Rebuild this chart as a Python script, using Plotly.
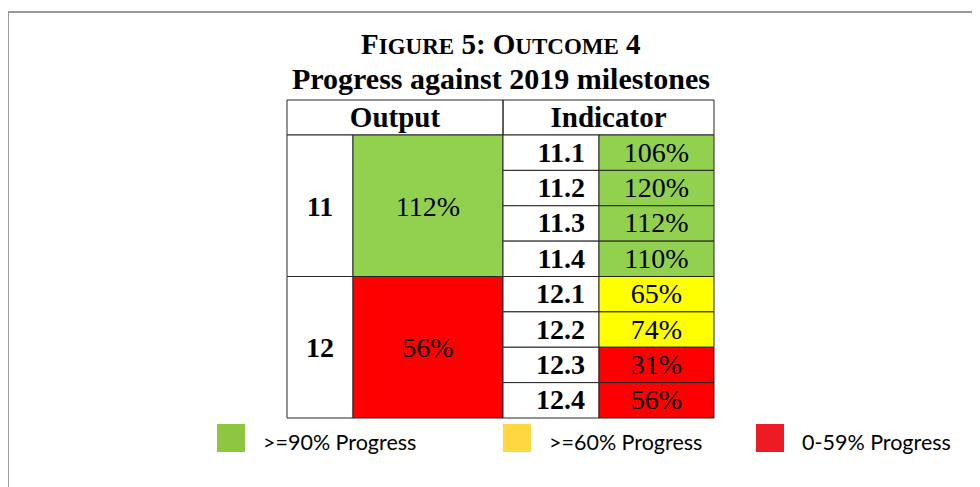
import plotly.graph_objects as go

# Table data
outputs = ["11", "12"]
output_progress = [112, 56]
indicators = ["11.1", "11.2", "11.3", "11.4", "12.1", "12.2", "12.3", "12.4"]
indicator_progress = [106, 120, 112, 110, 65, 74, 31, 56]
indicators_per_output = 4
header_labels = ["Output", "Indicator"]

legend_labels = [">=90% Progress", ">=60% Progress", "0-59% Progress"]
legend_colors = ["#8DC63F", "#FFD83F", "#ED1C24"]


def cell_colour(p):
    if p >= 90:
        return "#92D050"
    if p >= 60:
        return "#FFFF00"
    return "#FF0000"


# Layout of the table (pixel units on the axes)
W, H = 980, 487
OFF = 8  # page body margin, so axis units match page pixels
COLS = [287, 353, 503, 599, 714]
HEAD_TOP, HEAD_BOT = 100, 135
ROW_H = (418 - HEAD_BOT) / len(indicators)
TXT_DY = 2  # text sits a little below cell middle
SERIF = "Liberation Serif, Times New Roman, serif"
LINE = dict(color="#262626", width=1)


def row_top(i):
    return HEAD_BOT + i * ROW_H


fig = go.Figure()
shapes = []

# outer frame
shapes.append(dict(type="rect", x0=8, y0=12, x1=W + 40, y1=H + 40,
                   line=dict(color="#999999", width=2), layer="below"))

# header cells
for x0, x1 in [(COLS[0], COLS[2]), (COLS[2], COLS[4])]:
    shapes.append(dict(type="rect", x0=x0, x1=x1, y0=HEAD_TOP, y1=HEAD_BOT,
                       line=LINE, layer="below"))

out_y = []
for k, p in enumerate(output_progress):
    y0 = row_top(k * indicators_per_output)
    y1 = row_top((k + 1) * indicators_per_output)
    shapes.append(dict(type="rect", x0=COLS[0], x1=COLS[1], y0=y0, y1=y1,
                       line=LINE, fillcolor="white", layer="below"))
    shapes.append(dict(type="rect", x0=COLS[1], x1=COLS[2], y0=y0, y1=y1,
                       line=LINE, fillcolor=cell_colour(p), layer="below"))
    out_y.append((y0 + y1) / 2 + TXT_DY + 1)

ind_y = []
for i, p in enumerate(indicator_progress):
    y0, y1 = row_top(i), row_top(i + 1)
    shapes.append(dict(type="rect", x0=COLS[2], x1=COLS[3], y0=y0, y1=y1,
                       line=LINE, fillcolor="white", layer="below"))
    shapes.append(dict(type="rect", x0=COLS[3], x1=COLS[4], y0=y0, y1=y1,
                       line=LINE, fillcolor=cell_colour(p), layer="below"))
    ind_y.append((y0 + y1) / 2 + TXT_DY)

# header text
fig.add_trace(go.Scatter(
    x=[(COLS[0] + COLS[2]) / 2, (COLS[2] + COLS[4]) / 2],
    y=[(HEAD_TOP + HEAD_BOT) / 2 + TXT_DY] * 2,
    text=["<b>%s</b>" % h for h in header_labels],
    mode="text", textfont=dict(family=SERIF, size=29, color="black"),
    hoverinfo="skip", showlegend=False))

# output numbers and progress
fig.add_trace(go.Scatter(
    x=[(COLS[0] + COLS[1]) / 2] * len(outputs), y=out_y,
    text=["<b>%s</b>" % o for o in outputs],
    mode="text", textfont=dict(family=SERIF, size=28, color="black"),
    hoverinfo="skip", showlegend=False))
fig.add_trace(go.Scatter(
    x=[(COLS[1] + COLS[2]) / 2] * len(outputs), y=out_y,
    text=["%d%%" % p for p in output_progress],
    mode="text", textfont=dict(family=SERIF, size=28, color="black"),
    hoverinfo="skip", showlegend=False))

# indicator labels and progress
fig.add_trace(go.Scatter(
    x=[COLS[3] - 14] * len(indicators), y=ind_y,
    text=["<b>%s</b>" % s for s in indicators],
    mode="text", textposition="middle left",
    textfont=dict(family=SERIF, size=28, color="black"),
    hoverinfo="skip", showlegend=False))
fig.add_trace(go.Scatter(
    x=[(COLS[3] + COLS[4]) / 2] * len(indicators), y=ind_y,
    text=["%d%%" % p for p in indicator_progress],
    mode="text", textfont=dict(family=SERIF, size=28, color="black"),
    hoverinfo="skip", showlegend=False))

# legend swatches and labels
LEG_X = [217, 503, 756]
annotations = []
for lx, lab, col in zip(LEG_X, legend_labels, legend_colors):
    shapes.append(dict(type="rect", x0=lx, x1=lx + 28, y0=424, y1=452,
                       line=dict(width=0), fillcolor=col, layer="below"))
    annotations.append(dict(x=lx + 44, y=442, xref="x", yref="y", text=lab,
                            showarrow=False, xanchor="left", yanchor="middle",
                            font=dict(family="Lato", size=21.5, color="black")))

# title
annotations.append(dict(
    x=501, y=44, xref="x", yref="y", showarrow=False,
    text="<b>F<span style='font-size:23px'>IGURE</span> 5: O<span style='font-size:23px'>UTCOME</span> 4</b>",
    font=dict(family=SERIF, size=29, color="black"), yanchor="middle"))
annotations.append(dict(
    x=501, y=78, xref="x", yref="y", showarrow=False,
    text="<b>Progress against 2019 milestones</b>",
    font=dict(family=SERIF, size=30, color="black"), yanchor="middle"))

fig.update_layout(
    width=W, height=H,
    margin=dict(l=0, r=0, t=0, b=0),
    paper_bgcolor="white", plot_bgcolor="white",
    xaxis=dict(range=[OFF, W + OFF], visible=False, fixedrange=True),
    yaxis=dict(range=[H + OFF, OFF], visible=False, fixedrange=True),
    shapes=shapes, annotations=annotations,
    showlegend=False,
)

fig.write_html("out.html")
